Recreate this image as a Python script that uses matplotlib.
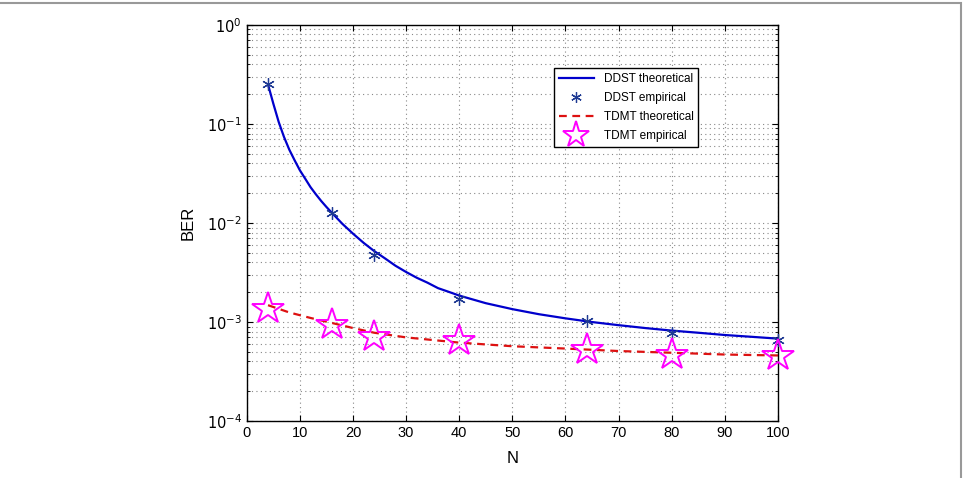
import matplotlib
matplotlib.use('Agg')
import matplotlib.pyplot as plt
from matplotlib.patches import Rectangle
import numpy as np

plt.rcParams['font.family'] = ['Liberation Sans', 'DejaVu Sans']

# empirical points
n_emp = [4, 16, 24, 40, 64, 80, 100]
ddst_emp = [0.25, 0.0125, 0.0048, 0.0017, 0.00103, 0.00077, 0.00066]
tdmt_emp = [0.00135, 0.00093, 0.0007, 0.00065, 0.00052, 0.00046, 0.00045]

# theoretical curves
n_ddst = [4, 5, 6, 7, 8, 9, 10, 11, 12, 13, 14, 15, 16, 18, 20, 22, 24, 26, 28, 30,
          32, 34, 36, 38, 40, 45, 50, 55, 60, 65, 70, 75, 80, 85, 90, 95, 100]
ddst_th = [0.25, 0.16, 0.105, 0.074, 0.055, 0.043, 0.034, 0.028, 0.023, 0.0195,
           0.0167, 0.0145, 0.0127, 0.0098, 0.0078, 0.0063, 0.0052, 0.0044, 0.0037, 0.0032,
           0.0028, 0.0025, 0.0022, 0.00202, 0.00185, 0.00155, 0.00135, 0.0012, 0.00109,
           0.001, 0.00093, 0.00087, 0.00082, 0.00078, 0.00074, 0.00071, 0.00068]
n_tdmt = [4, 8, 12, 16, 20, 24, 30, 40, 50, 60, 70, 80, 90, 100]
tdmt_th = [0.00148, 0.00125, 0.0011, 0.00098, 0.00087, 0.00078, 0.0007, 0.00062,
           0.00057, 0.00054, 0.00051, 0.00049, 0.00047, 0.00046]

fig = plt.figure(figsize=(9.64, 4.78), dpi=100)
ax = fig.add_axes([0.256, 0.119, 0.551, 0.829])

ax.plot(n_ddst, ddst_th, color='#0000cc', lw=1.6, label='DDST theoretical')
ax.plot(n_emp, ddst_emp, lw=0, marker=(6, 2, 0), ms=9, mew=0.9,
        color='#1f3a93', label='DDST empirical', clip_on=False, zorder=4)
ax.plot(n_tdmt, tdmt_th, color='#dd1111', lw=1.6, ls=(0, (3.5, 2.5)), label='TDMT theoretical')
ax.plot(n_emp, tdmt_emp, lw=0, marker='*', ms=24, mew=1.4, mfc='none',
        mec='#ff00ff', label='TDMT empirical', clip_on=False, zorder=4)

ax.set_yscale('log')
ax.set_xlim(0, 100)
ax.set_ylim(1e-4, 1)
ax.set_xticks(np.arange(0, 101, 10))
ax.set_yticks([1e-4, 1e-3, 1e-2, 1e-1, 1])
ax.set_yticklabels([r'$10^{-4}$', r'$10^{-3}$', r'$10^{-2}$', r'$10^{-1}$', r'$10^{0}$'])
ax.grid(True, which='major', ls=(0, (1, 3)), color='#888888', lw=0.8)
ax.grid(True, which='minor', axis='y', ls=(0, (1, 3)), color='#888888', lw=0.8)
ax.tick_params(direction='in', which='both', top=True, right=True, labelsize=10.5)
ax.tick_params(which='minor', length=2.5)
ax.tick_params(which='major', length=4)
for s in ax.spines.values():
    s.set_linewidth(1.0)

ax.set_xlabel('N', fontsize=12, labelpad=8)
ax.set_ylabel('BER', fontsize=12, labelpad=8)

leg = ax.legend(loc='upper right', bbox_to_anchor=(0.861, 0.905), fontsize=8.5,
                fancybox=False, framealpha=1, edgecolor='black',
                borderpad=0.4, labelspacing=0.6, handlelength=3.0, markerscale=0.85)
leg.get_frame().set_linewidth(1.0)

# page border
fig.patches.append(Rectangle((-0.05, -0.05), 1.047, 1.043, transform=fig.transFigure,
                             fill=False, edgecolor='#999999', lw=1.5))

fig.savefig('out.png', dpi=100)
